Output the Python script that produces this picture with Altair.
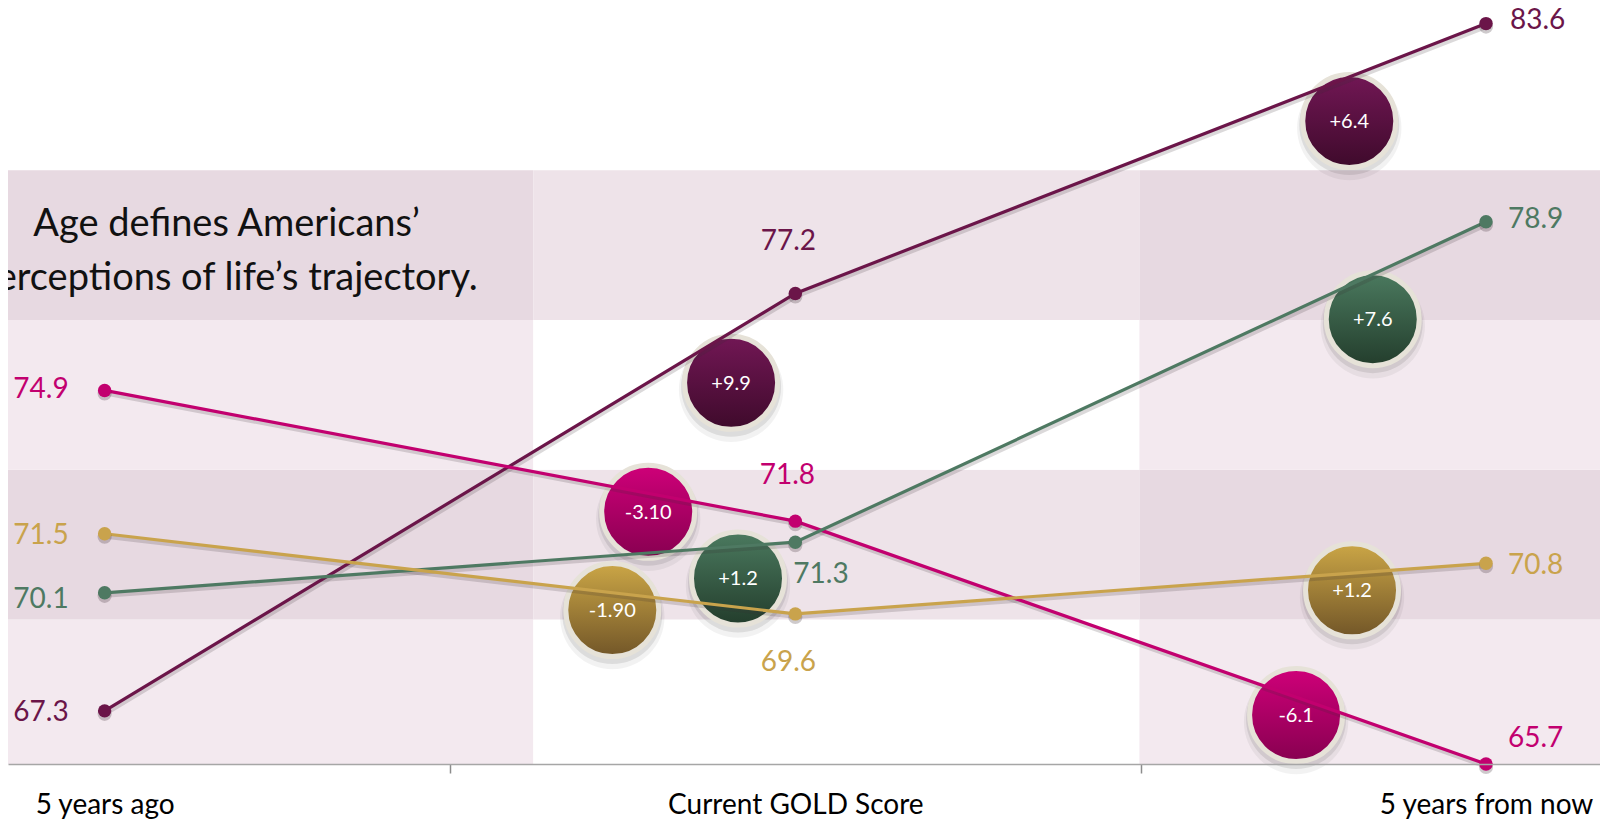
import altair as alt
import pandas as pd

# ---------------- data ----------------
categories = ["5 years ago", "Current GOLD Score", "5 years from now"]
series_names = ["purple", "magenta", "green", "gold"]
values_purple = [67.3, 77.2, 83.6]
values_magenta = [74.9, 71.8, 65.7]
values_green = [70.1, 71.3, 78.9]
values_gold = [71.5, 69.6, 70.8]

line_colors = ["#6b1549", "#c2006f", "#4e7962", "#c9a34c"]
badge_top = ["#721755", "#cf0079", "#4b7a5f", "#cba646"]
badge_bottom = ["#3e0a2b", "#870050", "#233d2c", "#725628"]

badge_series = ["purple", "purple", "magenta", "magenta", "green", "green", "gold", "gold"]
badge_text = ["+9.9", "+6.4", "-3.10", "-6.1", "+1.2", "+7.6", "-1.90", "+1.2"]
badge_x = [0.907, 1.802, 0.787, 1.725, 0.917, 1.836, 0.735, 1.806]
badge_y = [75.08, 81.29, 72.02, 67.2, 70.44, 76.59, 69.69, 70.16]

band_edges = [66.04, 69.47, 73.02, 76.57, 80.12]
band_dark = [False, True, False, True]
col_edges = [-0.14, 0.6207, 1.4982, 2.17]
col_shaded = [True, False, True]

title_lines = ["Age defines Americans\u2019", "perceptions of life\u2019s trajectory."]

W, H = 1592, 756
X_DOM = [-0.1399, -0.1399 + W / 690.7]
Y_DOM = [66.04, 83.97]
FONT = "Lato"

# ---------------- tables ----------------
all_vals = [values_purple, values_magenta, values_green, values_gold]
rows = []
for s, vals in zip(series_names, all_vals):
    for i, v in enumerate(vals):
        rows.append({"series": s, "idx": i, "cat": categories[i], "value": v})
df = pd.DataFrame(rows)

cells = []
for b in range(len(band_dark)):
    for c in range(len(col_shaded)):
        if band_dark[b]:
            col = "#e7d9e1" if col_shaded[c] else "#eee3e9"
        else:
            col = "#f3e9ef" if col_shaded[c] else "#ffffff"
        cells.append({"x": col_edges[c], "x2": col_edges[c + 1],
                      "y": band_edges[b], "y2": band_edges[b + 1], "col": col})
df_cells = pd.DataFrame(cells)

df_badges = pd.DataFrame({"series": badge_series, "text": badge_text,
                          "bx": badge_x, "by": badge_y})

xs = alt.Scale(domain=X_DOM, nice=False, zero=False)
ys = alt.Scale(domain=Y_DOM, nice=False, zero=False, clamp=True)
cscale = alt.Scale(domain=series_names, range=line_colors)

label_expr = ("datum.value === 0 ? '%s' : datum.value === 1 ? '%s' : datum.value === 2 ? '%s' : ''"
              % tuple(categories))
XAXIS = alt.Axis(
    values=[0, 0.5, 1, 1.5, 2], labelExpr=label_expr, title=None, grid=False,
    domainColor="#a6a6a6", domainWidth=1.5, tickColor="#8c8c8c", tickWidth=1.5,
    tickSize=9, tickOpacity={"condition": {"test": "datum.value % 1 === 0", "value": 0}, "value": 1},
    labelFont=FONT, labelFontSize=28, labelColor="#000000", labelBaseline="alphabetic",
    labelPadding=40, labelOverlap=False, labelFlush=False, labelBound=False, labelLimit=500,
    zindex=1)


def xenc(field):
    return alt.X(field, scale=xs, axis=XAXIS)


def yenc(field):
    return alt.Y(field, scale=ys, axis=None)


X = xenc("idx:Q")
Y = yenc("value:Q")

base = alt.Chart(df)

# background cells
bg = alt.Chart(df_cells).mark_rect(opacity=1).encode(
    x=xenc("x:Q"), x2="x2:Q", y=yenc("y:Q"), y2="y2:Q",
    color=alt.Color("col:N", scale=None, legend=None),
)

layers = [bg]

# badges (shadow, ring + gradient, text)
for s, top, bot in zip(series_names, badge_top, badge_bottom):
    bsub = alt.Chart(df_badges).transform_filter(alt.datum.series == s)
    enc = dict(x=xenc("bx:Q"), y=yenc("by:Q"))
    layers.append(bsub.mark_point(shape="circle", filled=True, fill="#000000", opacity=0.05,
                                  size=10900, strokeWidth=0, yOffset=7).encode(**enc))
    layers.append(bsub.mark_point(shape="circle", filled=True, fill="#000000", opacity=0.09,
                                  size=10000, strokeWidth=0, yOffset=4).encode(**enc))
    grad = {"gradient": "linear", "x1": 0, "y1": 0, "x2": 0, "y2": 1,
            "stops": [{"offset": 0, "color": top}, {"offset": 1, "color": bot}]}
    layers.append(bsub.mark_point(shape="circle", filled=True, fill=grad, stroke="#e6e2d8",
                                  strokeWidth=5, size=8649, opacity=1, strokeOpacity=1,
                                  fillOpacity=1).encode(**enc))
    layers.append(bsub.mark_text(font=FONT, fontSize=20, color="#ffffff", baseline="middle",
                                 align="center", dy=1).encode(text="text:N", **enc))

# line shadows and lines
layers.append(base.mark_line(color="#3a2a33", opacity=0.18, strokeWidth=4, yOffset=3, xOffset=1).encode(
    x=X, y=Y, detail="series:N"))
layers.append(base.mark_line(strokeWidth=3.2).encode(
    x=X, y=Y, color=alt.Color("series:N", scale=cscale, legend=None)))
# point shadows and points
layers.append(base.mark_circle(color="#3a2a33", opacity=0.25, size=200, yOffset=3).encode(x=X, y=Y))
layers.append(base.mark_circle(size=180, opacity=1).encode(
    x=X, y=Y, color=alt.Color("series:N", scale=cscale, legend=None)))

# value labels: (align, dx, dy) per series/point
placements = {
    ("purple", 0): ("right", -36, 10), ("magenta", 0): ("right", -36, 8),
    ("green", 0): ("right", -36, 15), ("gold", 0): ("right", -36, 10),
    ("purple", 1): ("center", -7, -43), ("magenta", 1): ("center", -8, -37),
    ("green", 1): ("left", -2, 41), ("gold", 1): ("center", -7, 57),
    ("purple", 2): ("left", 24, 5), ("magenta", 2): ("left", 22, -17),
    ("green", 2): ("left", 22, 6), ("gold", 2): ("left", 22, 11),
}
for (s, i), (al, dx, dy) in placements.items():
    layers.append(base.transform_filter((alt.datum.series == s) & (alt.datum.idx == i)).mark_text(
        font=FONT, fontSize=28, align=al, baseline="alphabetic", dx=dx, dy=dy).encode(
        x=X, y=Y, text=alt.Text("value:Q", format=".1f"),
        color=alt.Color("series:N", scale=cscale, legend=None)))

# title annotation inside plot
df_title = pd.DataFrame({"tx": [0.1765], "ty": [78.56]})
layers.append(alt.Chart(df_title).mark_text(
    text=title_lines, font=FONT, fontSize=38, color="#111111", align="center",
    baseline="alphabetic", lineHeight=54).encode(x=xenc("tx:Q"), y=yenc("ty:Q")))

chart = alt.layer(*layers).properties(
    width=W, height=H,
    autosize=alt.AutoSizeParams(type="none"),
    padding={"left": 0, "top": 0, "right": 0, "bottom": 58},
).configure(background="#ffffff").configure_view(stroke=None)

chart.save("out.html", embed_options={"renderer": "svg", "actions": False})
